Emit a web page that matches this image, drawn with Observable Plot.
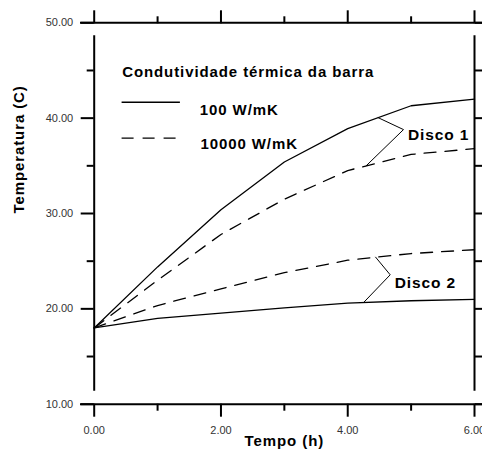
<!DOCTYPE html>
<html>
<head>
<meta charset="utf-8">
<script src="https://cdn.jsdelivr.net/npm/d3@7"></script>
<script src="https://cdn.jsdelivr.net/npm/@observablehq/plot@0.6"></script>
<style>
  body { margin: 0; background: #fff; }
</style>
</head>
<body>
<div id="chart"></div>
<script>
// ---- data ----
const hours = [0, 1, 2, 3, 4, 5, 6];
const disco1_100 = [18, 24.4, 30.4, 35.4, 38.9, 41.3, 42.0];
const disco1_10000 = [18, 23.0, 27.8, 31.5, 34.5, 36.2, 36.8];
const disco2_10000 = [18, 20.35, 22.1, 23.8, 25.1, 25.8, 26.2];
const disco2_100 = [18, 19.0, 19.55, 20.1, 20.6, 20.85, 21.0];

const xMajorTicks = [0, 2, 4, 6];
const xMinorTicks = [1, 3, 5];
const yMajorTicks = [10, 20, 30, 40, 50];
const yMinorTicks = [15, 25, 35, 45];
const yRightTicks = [10, 15, 20, 25, 30, 35, 40, 45, 50];

const xLabel = "Tempo (h)";
const yLabel = "Temperatura (C)";
const legendTitle = "Condutividade térmica da barra";
const seriesNames = ["100 W/mK", "10000 W/mK"];
const discoNames = ["Disco 1", "Disco 2"];

// leader lines (callouts) for disc labels: [hour, temperature]
const leader1 = [[4.48, 40.05], [4.88, 38.8], [4.29, 35.0]];
const leader2 = [[4.44, 25.42], [4.67, 23.57], [4.25, 20.66]];

const toPts = (ys) => hours.map((h, i) => ({x: h, y: ys[i]}));

const font = "Liberation Sans, Arial, Helvetica, sans-serif";
const dash = "12,9";
const lw = 1.3;

const svg = Plot.plot({
  width: 482,
  height: 453,
  marginLeft: 93.7,
  marginRight: 8,
  marginTop: 22.3,
  marginBottom: 49.3,
  style: {fontFamily: font, background: "white", overflow: "visible"},
  x: {domain: [0, 6]},
  y: {domain: [10, 50]},
  marks: [
    // frame lines (extended beyond the plot like the original)
    Plot.ruleX([0, 6], {y1: 10, y2: 50, insetTop: -13, insetBottom: -13, strokeWidth: 2, stroke: "black"}),
    Plot.ruleY([10, 50], {x1: 0, x2: 6, insetLeft: -13.7, insetRight: -8, strokeWidth: 2, stroke: "black"}),
    // axes
    Plot.axisY({anchor: "left", ticks: yMajorTicks, tickSize: 13, tickPadding: 8, strokeWidth: 2, fontSize: 11, tickFormat: d => d.toFixed(2), label: null}),
    Plot.axisY({anchor: "left", ticks: yMinorTicks, tickSize: 7, strokeWidth: 2, tickFormat: () => "", label: null}),
    Plot.axisY({anchor: "right", ticks: yRightTicks, tickSize: 8, strokeWidth: 2, tickFormat: () => "", label: null}),
    Plot.axisX({anchor: "bottom", ticks: xMajorTicks, tickSize: 13, tickPadding: 9, strokeWidth: 2, fontSize: 11, tickFormat: d => d.toFixed(2), label: null}),
    Plot.axisX({anchor: "bottom", ticks: xMinorTicks, tickSize: 7, strokeWidth: 2, tickFormat: () => "", label: null}),
    Plot.axisX({anchor: "top", ticks: xMajorTicks, tickSize: 13, strokeWidth: 2, tickFormat: () => "", label: null}),
    Plot.axisX({anchor: "top", ticks: xMinorTicks, tickSize: 7, strokeWidth: 2, tickFormat: () => "", label: null}),
    // axis titles
    Plot.text([xLabel], {frameAnchor: "bottom", dy: 41.5, fontSize: 15, fontWeight: "bold", fill: "black"}),
    Plot.text([yLabel], {frameAnchor: "left", dx: -74.7, rotate: -90, fontSize: 15, fontWeight: "bold", fill: "black"}),
    // data lines
    Plot.line(toPts(disco1_100), {x: "x", y: "y", stroke: "black", strokeWidth: lw}),
    Plot.line(toPts(disco2_100), {x: "x", y: "y", stroke: "black", strokeWidth: lw}),
    Plot.line(toPts(disco1_10000), {x: "x", y: "y", stroke: "black", strokeWidth: lw, strokeDasharray: dash}),
    Plot.line(toPts(disco2_10000), {x: "x", y: "y", stroke: "black", strokeWidth: lw, strokeDasharray: dash}),
    // callouts
    Plot.line(leader1, {x: d => d[0], y: d => d[1], stroke: "black", strokeWidth: 1}),
    Plot.line(leader2, {x: d => d[0], y: d => d[1], stroke: "black", strokeWidth: 1}),
    Plot.text([discoNames[0]], {x: 4.95, y: 38.23, textAnchor: "start", fontSize: 15.5, fontWeight: "bold", fill: "black"}),
    Plot.text([discoNames[1]], {x: 4.74, y: 22.71, textAnchor: "start", fontSize: 15.5, fontWeight: "bold", fill: "black"}),
    // legend
    Plot.text([legendTitle], {frameAnchor: "top-left", dx: 28, dy: 43.6, textAnchor: "start", fontSize: 15, fontWeight: "bold", fill: "black"}),
    Plot.ruleY([41.67], {x1: 0.44, x2: 1.36, stroke: "black", strokeWidth: lw}),
    Plot.ruleY([37.9], {x1: 0.44, x2: 1.36, stroke: "black", strokeWidth: lw, strokeDasharray: dash}),
    Plot.text([seriesNames[0]], {frameAnchor: "top-left", dx: 105.6, dy: 81.9, textAnchor: "start", fontSize: 15, fontWeight: "bold", fill: "black"}),
    Plot.text([seriesNames[1]], {frameAnchor: "top-left", dx: 106.3, dy: 115.6, textAnchor: "start", fontSize: 15, fontWeight: "bold", fill: "black"})
  ]
});

const s = d3.select(svg);
s.selectAll('g[aria-label="text"] text').style("letter-spacing", "0.9px");
s.selectAll('g[aria-label$="tick label"] text').attr("fill", "#333");
s.selectAll('g[aria-label$="tick"] path').attr("stroke", "black");
document.getElementById("chart").appendChild(svg);
</script>
</body>
</html>
